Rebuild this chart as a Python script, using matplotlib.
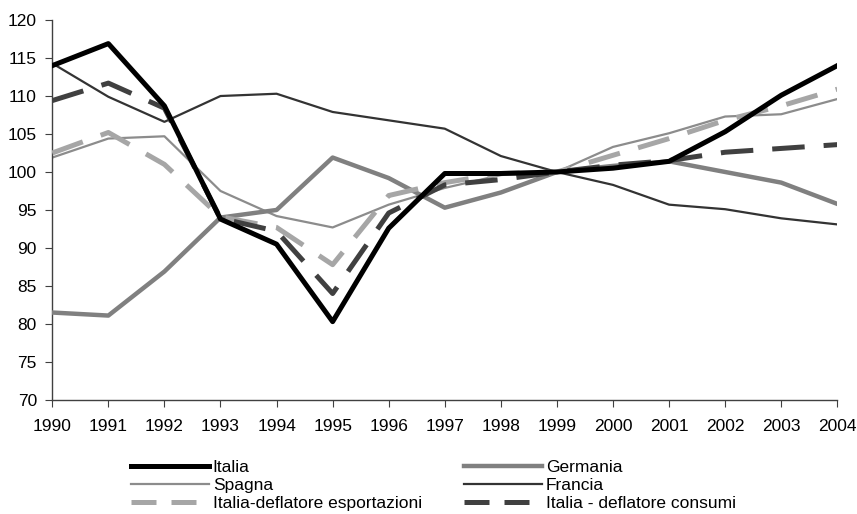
import matplotlib.pyplot as plt
from matplotlib.lines import Line2D

years = list(range(1990, 2005))

italia = [114.0, 116.9, 108.7, 93.8, 90.5, 80.3, 92.6, 99.8, 99.8, 100.0, 100.5, 101.4, 105.3, 110.1, 114.0]
germania = [81.5, 81.1, 86.9, 94.0, 95.0, 101.9, 99.2, 95.3, 97.3, 100.0, 100.8, 101.4, 100.0, 98.6, 95.8]
spagna = [101.9, 104.4, 104.7, 97.5, 94.2, 92.7, 95.7, 97.9, 99.6, 100.0, 103.3, 105.1, 107.3, 107.6, 109.6]
francia = [114.3, 109.9, 106.6, 110.0, 110.3, 107.9, 106.8, 105.7, 102.1, 100.0, 98.3, 95.7, 95.1, 93.9, 93.1]
defl_export = [102.5, 105.2, 101.0, 94.1, 92.7, 87.8, 96.9, 98.6, 99.8, 100.0, 102.2, 104.4, 106.8, 108.7, 110.9]
defl_consumi = [109.4, 111.7, 108.4, 93.9, 92.2, 84.0, 94.6, 98.3, 99.0, 100.0, 100.9, 101.5, 102.6, 103.1, 103.6]

labels = ["Italia", "Germania", "Spagna", "Francia",
          "Italia-deflatore esportazioni", "Italia - deflatore consumi"]

plt.rcParams['font.family'] = ['Liberation Sans', 'DejaVu Sans']

fig = plt.figure(figsize=(8.57, 5.14), dpi=100)
ax = fig.add_axes([0.061, 0.222, 0.916, 0.739])

dash = (6.5, 3.8)
ax.plot(years, spagna, color='#8c8c8c', lw=1.6, zorder=2)
ax.plot(years, francia, color='#333333', lw=1.6, zorder=2)
ax.plot(years, germania, color='#808080', lw=3.2, zorder=3)
ax.plot(years, defl_export, color='#a6a6a6', lw=3.6, dashes=dash, zorder=4)
ax.plot(years, defl_consumi, color='#404040', lw=3.6, dashes=dash, zorder=4)
ax.plot(years, italia, color='black', lw=3.6, zorder=5)

ax.set_xlim(1990, 2004)
ax.set_ylim(70, 120)
ax.set_xticks(years)
ax.set_yticks(range(70, 121, 5))
ax.tick_params(labelsize=12.5, length=5, color='#404040', direction='out')
ax.tick_params(axis='x', pad=9)
ax.tick_params(axis='y', pad=6)
for side in ['top', 'right']:
    ax.spines[side].set_visible(False)
for side in ['left', 'bottom']:
    ax.spines[side].set_color('#404040')
    ax.spines[side].set_linewidth(1.0)

handles = [
    Line2D([], [], color='black', lw=3.6),
    Line2D([], [], color='#808080', lw=3.2),
    Line2D([], [], color='#8c8c8c', lw=1.6),
    Line2D([], [], color='#333333', lw=1.6),
    Line2D([], [], color='#a6a6a6', lw=3.6, dashes=(5, 3)),
    Line2D([], [], color='#404040', lw=3.6, dashes=(5, 3)),
]
# columns: left Italia/Spagna/export, right Germania/Francia/consumi
order = [0, 2, 4, 1, 3, 5]
fig.legend([handles[i] for i in order], [labels[i] for i in order],
           ncol=2, loc='upper left', bbox_to_anchor=(0.1525, 0.106),
           frameon=False, fontsize=12.5, handlelength=4.5, handletextpad=0.23,
           labelspacing=0.17, columnspacing=2.4, borderaxespad=0, borderpad=0)

fig.savefig('out.png', dpi=100)
